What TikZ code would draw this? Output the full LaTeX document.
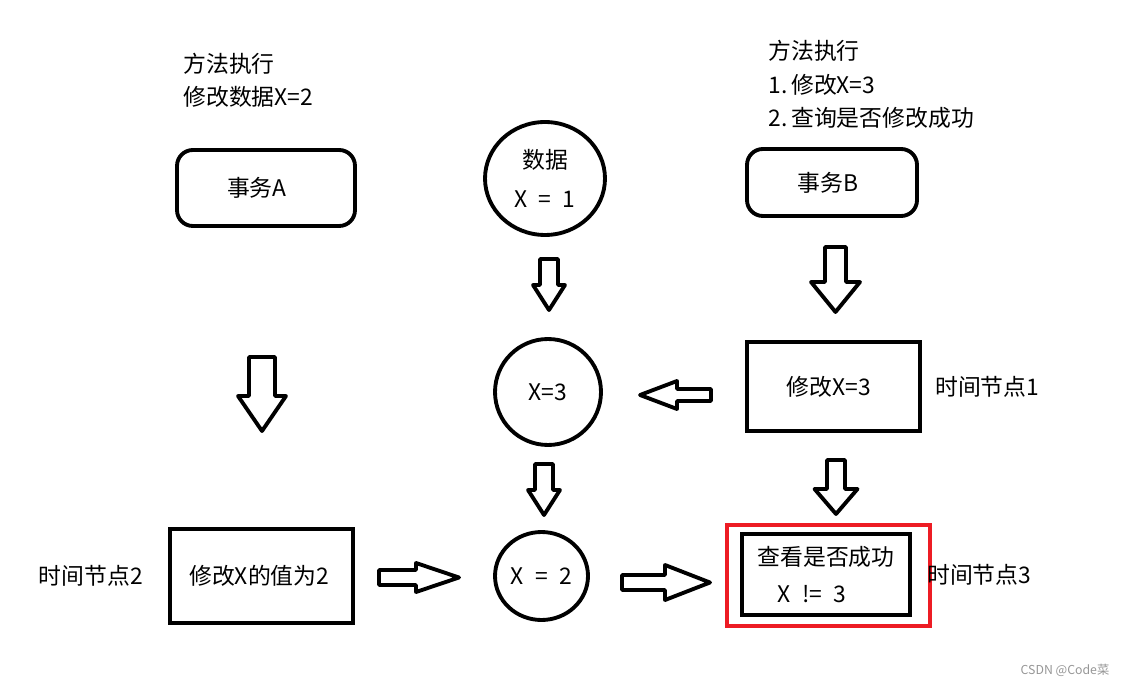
\documentclass[tikz,border=0pt]{standalone}
\usepackage{fontspec}
\setmainfont{Noto Sans CJK SC}
\usepackage{tikz}
\usetikzlibrary{shapes.geometric, positioning}
\usepackage{xcolor}
\definecolor{markred}{RGB}{237,28,36}
\definecolor{wmgray}{RGB}{150,150,150}
\tikzset{
    txt/.style={font=\fontsize{13pt}{19pt}\selectfont},
    box/.style={draw=black, line width=2.2pt, txt, align=center},
    rbox/.style={box, rounded corners=9pt},
    dot/.style={ellipse, draw=black, line width=2.2pt, inner sep=0pt, txt, align=center},
    note/.style={txt, align=left, anchor=west, inner sep=0pt},
    barrow/.style={draw=black, line width=2.2pt, line join=round}
}
% block arrow: start, angle, length, shaft half width, head half width, head length
\newcommand{\blockarrow}[6]{%
    \draw[barrow, shift={(#1)}, rotate=#2] (0,-#4) -- ({#3-#6},-#4) -- ({#3-#6},-#5)
        -- (#3,0) -- ({#3-#6},#5) -- ({#3-#6},#4) -- (0,#4) -- cycle;}

\begin{document}
\begin{tikzpicture}[x=0.02cm, y=-0.02cm]
    \useasboundingbox (0,0) rectangle (1124,685);

    % transaction A
    \node[note] (planA) at (183,80) {方法执行\\修改数据X=2};
    \node[rbox, minimum width=3.56cm, minimum height=1.52cm] (txA) at (266,188) {事务A\hspace{0.8em}};
    \node[box, minimum width=3.66cm, minimum height=1.88cm] (modA) at (261.5,576) {修改X的值为2\hspace{0.2em}};
    \node[note, anchor=east, left=0.5cm of modA] (t2) {时间节点2};

    % data
    \node[dot, minimum width=2.4cm, minimum height=2.26cm] (data) at (545,178.5)
        {数据\\[3pt]X\enspace=\enspace1};
    \node[dot, minimum width=2.12cm, minimum height=2.12cm] (x3) at (548,392) {X=3};
    \node[dot, minimum width=1.86cm, minimum height=1.76cm] (x2) at (541.5,576)
        {X\enspace=\enspace2};

    % transaction B
    \node[note] (planB) at (768,84.5) {方法执行\\1.\,修改X=3\\2.\,查询是否修改成功};
    \node[rbox, minimum width=3.4cm, minimum height=1.34cm] (txB) at (832,182.5) {事务B\hspace{0.35em}};
    \node[box, minimum width=3.46cm, minimum height=1.78cm] (modB) at (833.5,386.5) {修改X=3\hspace{0.4em}};
    \node[note, right=0.26cm of modB] (t1) {时间节点1};
    \node[box, minimum width=3.36cm, minimum height=1.62cm] (chk) at (826,574.5)
        {查看是否成功\\[2pt]X\enspace!=\enspace3\hspace*{1.2em}};
    \node[draw=markred, line width=2.2pt, minimum width=4.06cm, minimum height=2.02cm]
        (mark) at (828.5,575.5) {};
    \node[note, right=0.3cm of chk] (t3) {时间节点3};

    % block arrows
    \coordinate (aDn) at (262,357);
    \coordinate (dataDn) at (549,259);
    \coordinate (x3Dn) at (544,464);
    \coordinate (bDn) at (835.5,247);
    \coordinate (modBDn) at (836,460);
    \coordinate (modBLeft) at (711,395);
    \coordinate (modARight) at (379,577.5);
    \coordinate (x2Right) at (622,582.5);
    \blockarrow{aDn}{-90}{74}{13}{24}{35}
    \blockarrow{dataDn}{-90}{51}{9}{16}{25}
    \blockarrow{x3Dn}{-90}{51}{9}{16}{25}
    \blockarrow{bDn}{-90}{65}{10.5}{24.5}{30}
    \blockarrow{modBDn}{-90}{54}{9}{21.5}{25}
    \blockarrow{modBLeft}{180}{71}{6}{14}{37}
    \blockarrow{modARight}{0}{80}{7.5}{14.5}{43}
    \blockarrow{x2Right}{0}{88}{7.5}{17.5}{45}

    \node[font=\fontsize{7pt}{8pt}\selectfont, text=wmgray] (wm) at (1065,670) {CSDN @Code菜};
\end{tikzpicture}
\end{document}
